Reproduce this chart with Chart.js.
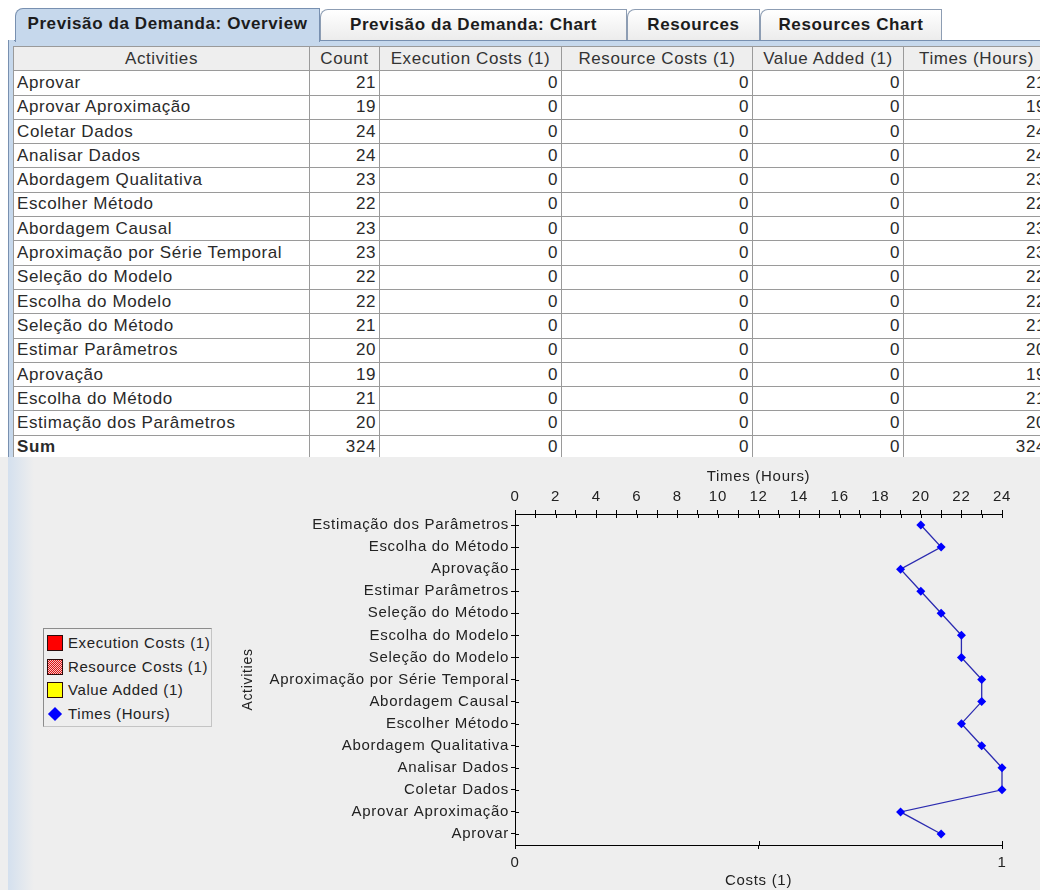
<!DOCTYPE html>
<html lang="pt">
<head>
<meta charset="utf-8">
<title>Previsão da Demanda: Overview</title>
<script src="https://cdn.jsdelivr.net/npm/chart.js@4.4.1/dist/chart.umd.min.js"></script>
<style>
  html, body { margin: 0; padding: 0; }
  body { width: 1040px; height: 890px; overflow: hidden; position: relative; background: #ffffff;
         font-family: "Liberation Sans", Arial, sans-serif; color: #222; }
  .tab { position: absolute; top: 9px; height: 31px; box-sizing: border-box; border: 1px solid #8d9db3; border-bottom: none;
         border-top-left-radius: 8px; background: linear-gradient(#ffffff, #ececec); font-weight: bold; font-size: 17px;
         letter-spacing: 0.6px; line-height: 29px; text-align: center; color: #1c1c1c; white-space: nowrap; }
  .tab.sel { top: 8px; height: 34px; background: #c6d8ec; border-color: #7890b0; z-index: 2; }
  .strip { position: absolute; left: 8px; top: 40px; width: 1032px; height: 7px; background: #c6d8ec;
           border-top: 1px solid #7890b0; box-sizing: border-box; }
  .edge { position: absolute; left: 8px; top: 40px; width: 6px; height: 417px; background: #c6d8ec;
          border-left: 1px solid #7890b0; box-sizing: border-box; }
  table { position: absolute; left: 13px; top: 46px; border-collapse: collapse; table-layout: fixed; width: 1036px;
          font-size: 17px; letter-spacing: 0.6px; background: #fff; color: #2a2a2a; }
  th, td { border: 1px solid #9a9a9a; padding: 0 3px; white-space: nowrap; overflow: hidden; }
  tr { height: 24.3px; }
  th { font-weight: normal; background: #eeeeee; color: #333; text-align: center; }
  td.n { text-align: right; }
  tr.sum td:first-child { font-weight: bold; }
  .lower { position: absolute; left: 0; top: 457px; width: 1040px; height: 433px; background: #eeeeee; }
  .glow { position: absolute; left: 8px; top: 0; width: 26px; height: 433px; background: linear-gradient(90deg, #d4e0ee, #eeeeee); }
  #chart { position: absolute; left: 220px; top: 0; }
  .legend { position: absolute; left: 43px; top: 171px; width: 169px; height: 99px; box-sizing: border-box;
            border: 1px solid #8c8c8c; border-right-color: #c4c4c4; border-bottom-color: #c4c4c4; background: #eeeeee;
            font-size: 15px; letter-spacing: 0.6px; color: #222; }
  .item { position: absolute; left: 3px; height: 24px; line-height: 24px; white-space: nowrap; }
  .icon { position: absolute; left: 0; top: 4px; width: 16px; height: 16px; box-sizing: border-box; border: 1px solid #2a0a0a; }
  .icon.diamond { border: none; }
  .icon.diamond::after { content: ""; position: absolute; left: 3px; top: 3px; width: 10px; height: 10px;
                         background: #0000ff; transform: rotate(45deg); }
  .item .t { position: absolute; left: 21px; top: 0; }
</style>
</head>
<body>
<div id="tabs"></div>
<div class="strip"></div>
<div class="edge"></div>
<table id="grid"></table>
<div class="lower">
  <div class="glow"></div>
  <canvas id="chart" width="820" height="433"></canvas>
  <div class="legend" id="legend"></div>
</div>
<script>
// --- data ---
const tabNames = ['Previsão da Demanda: Overview', 'Previsão da Demanda: Chart', 'Resources', 'Resources Chart'];
const columnNames = ['Activities', 'Count', 'Execution Costs (1)', 'Resource Costs (1)', 'Value Added (1)', 'Times (Hours)'];
const activities = [
  'Aprovar', 'Aprovar Aproximação', 'Coletar Dados', 'Analisar Dados', 'Abordagem Qualitativa',
  'Escolher Método', 'Abordagem Causal', 'Aproximação por Série Temporal', 'Seleção do Modelo',
  'Escolha do Modelo', 'Seleção do Método', 'Estimar Parâmetros', 'Aprovação', 'Escolha do Método',
  'Estimação dos Parâmetros'
];
const counts         = [21, 19, 24, 24, 23, 22, 23, 23, 22, 22, 21, 20, 19, 21, 20];
const executionCosts = [0, 0, 0, 0, 0, 0, 0, 0, 0, 0, 0, 0, 0, 0, 0];
const resourceCosts  = [0, 0, 0, 0, 0, 0, 0, 0, 0, 0, 0, 0, 0, 0, 0];
const valueAdded     = [0, 0, 0, 0, 0, 0, 0, 0, 0, 0, 0, 0, 0, 0, 0];
const timesHours     = [21, 19, 24, 24, 23, 22, 23, 23, 22, 22, 21, 20, 19, 21, 20];

const timeMin = 0, timeMax = 24, timeMinorStep = 1, timeLabelStep = 2;
const costMin = 0, costMax = 1, costStep = 0.5;

// --- tabs ---
const tabBoxes = [[15, 305], [320, 307], [627, 133], [760, 182]];
document.getElementById('tabs').innerHTML = tabNames.map((t, i) =>
  `<div class="tab${i === 0 ? ' sel' : ''}" style="left:${tabBoxes[i][0]}px;width:${tabBoxes[i][1]}px">${t}</div>`
).join('');

// --- table ---
const colWidths = [296, 70, 182, 191, 151, 146];
const sum = arr => arr.reduce((a, b) => a + b, 0);
let html = '<colgroup>' + colWidths.map(w => `<col style="width:${w}px">`).join('') + '</colgroup>';
html += '<tr>' + columnNames.map(c => `<th>${c}</th>`).join('') + '</tr>';
activities.forEach((a, i) => {
  html += `<tr><td>${a}</td><td class="n">${counts[i]}</td><td class="n">${executionCosts[i]}</td>` +
          `<td class="n">${resourceCosts[i]}</td><td class="n">${valueAdded[i]}</td><td class="n">${timesHours[i]}</td></tr>`;
});
html += `<tr class="sum"><td>Sum</td><td class="n">${sum(counts)}</td><td class="n">${sum(executionCosts)}</td>` +
        `<td class="n">${sum(resourceCosts)}</td><td class="n">${sum(valueAdded)}</td><td class="n">${sum(timesHours)}</td></tr>`;
document.getElementById('grid').innerHTML = html;

// --- legend (html, built from the dataset list) ---
const legendIcons = [
  'background:#ff0000',
  'background:repeating-conic-gradient(#e01010 0 25%, #f4c8c8 0 50%) 0 0/2px 2px',
  'background:#ffff00',
  null
];

// pattern for resource costs bars
function makePattern() {
  const c = document.createElement('canvas');
  c.width = 2; c.height = 2;
  const g = c.getContext('2d');
  g.fillStyle = '#f4c8c8'; g.fillRect(0, 0, 2, 2);
  g.fillStyle = '#e01010'; g.fillRect(0, 0, 1, 1); g.fillRect(1, 1, 1, 1);
  return g.createPattern(c, 'repeat');
}

const FONT = '"Liberation Sans", Arial, sans-serif';
Chart.defaults.font.family = FONT;
Chart.defaults.color = '#222';

// Java-ish letter spacing on the canvas text
const spacing = {
  id: 'spacing',
  beforeUpdate(chart) { chart.ctx.letterSpacing = '0.7px'; },
  beforeDraw(chart) { chart.ctx.letterSpacing = '0.7px'; }
};

// tick marks that cross the axis line
const crossTicks = {
  id: 'crossTicks',
  beforeDatasetsDraw(chart) {
    const { ctx, scales: { x, x2, y } } = chart;
    ctx.save();
    ctx.strokeStyle = '#000';
    ctx.lineWidth = 1;
    ctx.beginPath();
    x.ticks.forEach((t, i) => {
      const px = Math.round(x.getPixelForTick(i)) + 0.5;
      ctx.moveTo(px, x.bottom); ctx.lineTo(px, x.bottom + 4);
    });
    x2.ticks.forEach((t, i) => {
      const px = Math.round(x2.getPixelForTick(i)) + 0.5;
      ctx.moveTo(px, x2.top); ctx.lineTo(px, x2.top - 4);
    });
    y.ticks.forEach((t, i) => {
      const py = Math.round(y.getPixelForTick(i)) + 0.5;
      ctx.moveTo(y.right, py); ctx.lineTo(y.right + 4, py);
    });
    ctx.stroke();
    ctx.restore();
  }
};

const axisGrid = { display: true, drawOnChartArea: false, drawTicks: true, tickLength: 4, color: '#000', lineWidth: 1 };
const axisBorder = { display: true, color: '#000', width: 1 };

const datasets = [
  { type: 'bar', label: 'Execution Costs (1)', data: executionCosts, xAxisID: 'x2', yAxisID: 'y',
    backgroundColor: '#ff0000', borderWidth: 0 },
  { type: 'bar', label: 'Resource Costs (1)', data: resourceCosts, xAxisID: 'x2', yAxisID: 'y',
    backgroundColor: makePattern(), borderWidth: 0 },
  { type: 'bar', label: 'Value Added (1)', data: valueAdded, xAxisID: 'x2', yAxisID: 'y',
    backgroundColor: '#ffff00', borderWidth: 0 },
  { type: 'line', label: 'Times (Hours)', data: timesHours, xAxisID: 'x', yAxisID: 'y',
    borderColor: '#2b2bb0', borderWidth: 1.3, tension: 0, fill: false, clip: false,
    pointStyle: 'rectRot', pointRadius: 4.5, pointBackgroundColor: '#0000ff', pointBorderColor: '#0000ff',
    pointBorderWidth: 0, order: -1 }
];

document.getElementById('legend').innerHTML = datasets.map((d, i) => {
  const icon = legendIcons[i] ? `<span class="icon" style="${legendIcons[i]}"></span>` : '<span class="icon diamond"></span>';
  return `<div class="item" style="top:${(2 + i * 23.7).toFixed(1)}px">${icon}<span class="t">${d.label}</span></div>`;
}).join('');

new Chart(document.getElementById('chart'), {
  type: 'bar',
  data: { labels: activities, datasets },
  options: {
    indexAxis: 'y',
    responsive: false,
    animation: false,
    layout: { padding: { left: 0, right: 38, top: 0, bottom: 0 } },
    plugins: { legend: { display: false }, tooltip: { enabled: false } },
    scales: {
      x: {
        type: 'linear', position: 'top', min: timeMin, max: timeMax,
        grid: axisGrid, border: axisBorder,
        title: { display: true, text: 'Times (Hours)', font: { size: 15 }, color: '#222', padding: { top: 11, bottom: 0 } },
        ticks: { stepSize: timeMinorStep, autoSkip: false, maxRotation: 0, padding: 4, font: { size: 15 }, color: '#222',
                 callback: v => (v % timeLabelStep === 0 ? v : '') },
        afterFit: s => { s.height = 57; }
      },
      x2: {
        type: 'linear', position: 'bottom', min: costMin, max: costMax,
        grid: axisGrid, border: axisBorder,
        title: { display: true, text: 'Costs (1)', font: { size: 15 }, color: '#222', padding: { top: 0, bottom: 0 } },
        ticks: { stepSize: costStep, autoSkip: false, maxRotation: 0, padding: 5, font: { size: 15 }, color: '#222',
                 callback: v => (Number.isInteger(v) ? v : '') },
        afterFit: s => { s.height = 45; }
      },
      y: {
        type: 'category', position: 'left', reverse: true, offset: true,
        grid: Object.assign({}, axisGrid, { offset: false }), border: axisBorder,
        title: { display: true, text: 'Activities', font: { size: 14 }, color: '#222', padding: { top: 20, bottom: 0 } },
        ticks: { autoSkip: false, padding: 2, font: { size: 15 }, color: '#222' },
        afterFit: s => { s.width = 295; }
      }
    }
  },
  plugins: [spacing, crossTicks]
});
</script>
</body>
</html>
